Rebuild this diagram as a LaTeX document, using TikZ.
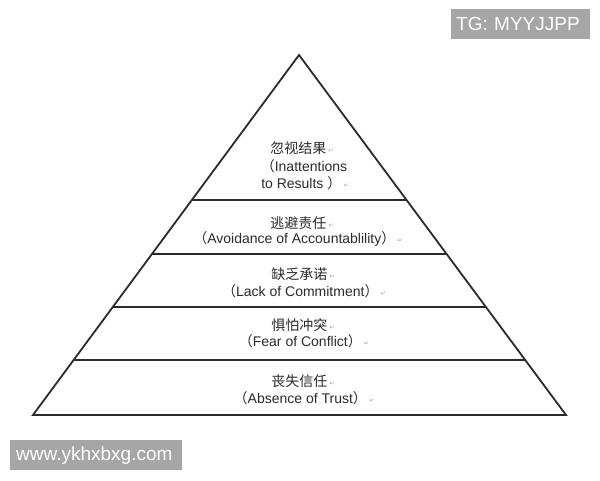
\documentclass[tikz,border=0pt]{standalone}
\usepackage{fontspec}
\usepackage{xcolor}
\usepackage{tikz}
\usetikzlibrary{positioning,calc}
\setmainfont{Liberation Sans}
\newfontfamily\cjk{Noto Sans CJK SC}
\newfontfamily\symfont{DejaVu Sans}
\definecolor{inkgray}{HTML}{2B2B2B}
\definecolor{markgray}{HTML}{A0A0A0}
\definecolor{wmgray}{HTML}{A6A6A6}
\newcommand{\pmark}{\,{\symfont\color{markgray}\fontsize{6}{6}\selectfont\raisebox{1pt}{↵}}}
\tikzset{
    level/.style={font=\fontsize{14}{14}\selectfont, text=inkgray, inner sep=0pt},
    sepline/.style={draw=inkgray, line width=1.3pt},
    watermark/.style={fill=wmgray, text=white, font=\fontsize{19}{19}\selectfont, inner sep=0pt, anchor=north west}
}

\begin{document}
\begin{tikzpicture}[x=1pt, y=-1pt]
    \useasboundingbox[fill=white] (0,0) rectangle (600,480);
    % outline of the pyramid
    \coordinate (apex) at (299,55);
    \coordinate (baseL) at (33,415);
    \coordinate (baseR) at (566,415);
    \draw[inkgray, line width=1.8pt, line join=miter] (apex) -- (baseL) -- (baseR) -- cycle;
    % layer borders
    \foreach \t in {0.4028,0.5528,0.7,0.8472}
        \draw[sepline] ($(apex)!\t!(baseL)$) -- ($(apex)!\t!(baseR)$);
    % labels, top to bottom
    \node[level] (resultsCn) at (302,148) {\cjk 忽视结果\pmark};
    \node[level] (resultsEn1) at (304,166) {{\cjk （}Inattentions};
    \node[level] (resultsEn2) at (305,183) {to Results {\cjk ）}\pmark};
    \node[level] (accountCn) at (302,223) {\cjk 逃避责任\pmark};
    \node[level] (accountEn) at (298,239) {{\cjk （}Avoidance of Accountablility{\cjk ）}\pmark};
    \node[level] (commitCn) at (303,274) {\cjk 缺乏承诺\pmark};
    \node[level] (commitEn) at (304,291) {{\cjk （}Lack of Commitment{\cjk ）}\pmark};
    \node[level] (conflictCn) at (303,325) {\cjk 惧怕冲突\pmark};
    \node[level] (conflictEn) at (304,341) {{\cjk （}Fear of Conflict{\cjk ）}\pmark};
    \node[level] (trustCn) at (303,381) {\cjk 丧失信任\pmark};
    \node[level] (trustEn) at (304,398) {{\cjk （}Absence of Trust{\cjk ）}\pmark};
    % watermarks
    \node[watermark, minimum width=139pt, minimum height=30pt, text width=135pt, align=left] (tagBox) at (451,9) {\hspace*{3pt}TG: MYYJJPP};
    \node[watermark, minimum width=172pt, minimum height=30pt, text width=168pt, align=left] (siteBox) at (10,440) {\hspace*{4pt}www.ykhxbxg.com};
\end{tikzpicture}
\end{document}
